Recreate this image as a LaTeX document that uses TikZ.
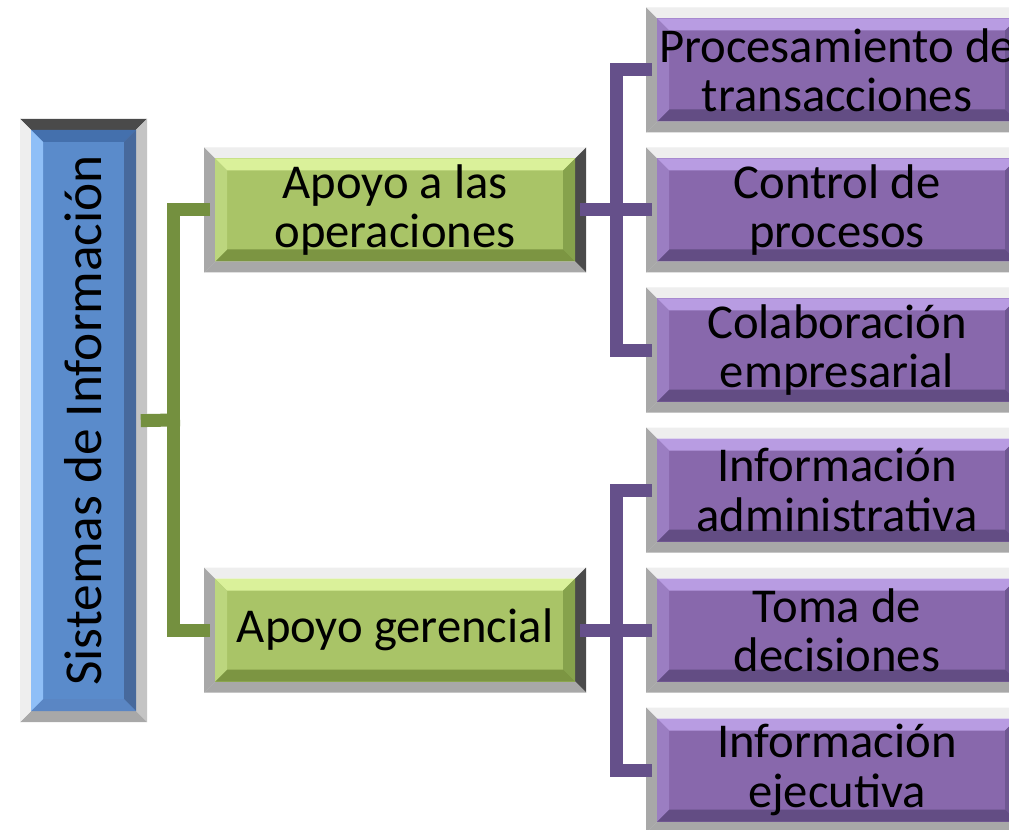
\documentclass[tikz,border=0pt]{standalone}
\usepackage{fontspec}
\usepackage{graphicx}
\setmainfont{Carlito}
\definecolor{gM}{HTML}{A9C467}
\definecolor{gT}{HTML}{DAF19A}
\definecolor{gL}{HTML}{BCD67E}
\definecolor{gR}{HTML}{86A24C}
\definecolor{gB}{HTML}{7C9542}
\definecolor{pM}{HTML}{8868AC}
\definecolor{pT}{HTML}{B89CE2}
\definecolor{pL}{HTML}{9B7EC2}
\definecolor{pR}{HTML}{6F5792}
\definecolor{pB}{HTML}{634D84}
\definecolor{bM}{HTML}{5A8BCB}
\definecolor{bT}{HTML}{4470AD}
\definecolor{bL}{HTML}{8FBFF7}
\definecolor{bR}{HTML}{47699C}
\definecolor{bB}{HTML}{5A86C4}
\definecolor{frLight}{HTML}{EEEEEE}
\definecolor{frGray}{HTML}{A8A8A8}
\definecolor{frDark}{HTML}{4A4A4A}
\definecolor{frMid}{HTML}{C4C4C4}
\definecolor{gLine}{HTML}{74903F}
\definecolor{pLine}{HTML}{65508A}
\def\bvf{8.25pt}
\def\bvg{9pt}
\tikzset{
  fT/.store in=\bvfT, fL/.store in=\bvfL, fR/.store in=\bvfR, fB/.store in=\bvfB,
  cM/.store in=\bvcM, cT/.store in=\bvcT, cL/.store in=\bvcL, cR/.store in=\bvcR, cB/.store in=\bvcB,
  bevelbox/.style={fill=white, inner sep=0pt, align=center, text=black,
    path picture={
      \coordinate (O1) at (path picture bounding box.north west);
      \coordinate (O2) at (path picture bounding box.north east);
      \coordinate (O3) at (path picture bounding box.south east);
      \coordinate (O4) at (path picture bounding box.south west);
      \coordinate (I1) at ([shift={(\bvf,-\bvf)}]O1);
      \coordinate (I2) at ([shift={(-\bvf,-\bvf)}]O2);
      \coordinate (I3) at ([shift={(-\bvf,\bvf)}]O3);
      \coordinate (I4) at ([shift={(\bvf,\bvf)}]O4);
      \coordinate (J1) at ([shift={(\bvg,-\bvg)}]I1);
      \coordinate (J2) at ([shift={(-\bvg,-\bvg)}]I2);
      \coordinate (J3) at ([shift={(-\bvg,\bvg)}]I3);
      \coordinate (J4) at ([shift={(\bvg,\bvg)}]I4);
      \fill[\bvfT] (O1) -- (O2) -- (I2) -- (I1) -- cycle;
      \fill[\bvfR] (O2) -- (O3) -- (I3) -- (I2) -- cycle;
      \fill[\bvfB] (O3) -- (O4) -- (I4) -- (I3) -- cycle;
      \fill[\bvfL] (O4) -- (O1) -- (I1) -- (I4) -- cycle;
      \fill[\bvcM] (I1) rectangle (I3);
      \fill[\bvcT] (I1) -- (I2) -- (J2) -- (J1) -- cycle;
      \fill[\bvcR] (I2) -- (I3) -- (J3) -- (J2) -- cycle;
      \fill[\bvcB] (I3) -- (I4) -- (J4) -- (J3) -- cycle;
      \fill[\bvcL] (I4) -- (I1) -- (J1) -- (J4) -- cycle;
    }},
  hbox/.style={bevelbox, minimum width=286.5pt, minimum height=93.75pt,
    font=\fontsize{36.5}{37}\selectfont,
    fT=frLight, fL=frGray, fR=frDark, fB=frGray},
  greenbox/.style={hbox, cM=gM, cT=gT, cL=gL, cR=gR, cB=gB},
  purplebox/.style={hbox, cM=pM, cT=pT, cL=pL, cR=pR, cB=pB},
  bluebox/.style={bevelbox, minimum width=95.25pt, minimum height=452.25pt,
    font=\fontsize{40}{40}\selectfont,
    fT=frDark, fL=frLight, fR=frMid, fB=frGray,
    cM=bM, cT=bT, cL=bL, cR=bR, cB=bB},
  gconn/.style={draw=gLine, line width=9.75pt, line join=miter, line cap=rect},
  pconn/.style={draw=pLine, line width=9.75pt, line join=miter, line cap=rect}
}
\begin{document}
\begin{tikzpicture}[x=0.75pt, y=-0.75pt]
\useasboundingbox (0,0) rectangle (1009,830);
\clip (0,0) rectangle (1009,830);
\fill[white] (0,0) rectangle (1009,830);

\coordinate (gbus) at (173.5,420);
\coordinate (pbus1) at (616.5,210);
\coordinate (pbus2) at (616.5,630);

\node[bluebox] (blue) at (83.5,420.5) {\rotatebox{90}{Sistemas de Información}};
\node[greenbox] (g1) at (395,210) {Apoyo a las\\operaciones};
\node[greenbox] (g2) at (395,630) {Apoyo gerencial};
\node[purplebox] (p1) at (837,70) {Procesamiento de\\transacciones};
\node[purplebox] (p2) at (837,210) {Control de\\procesos};
\node[purplebox] (p3) at (837,350) {Colaboración\\empresarial};
\node[purplebox] (p4) at (837,490) {Información\\administrativa};
\node[purplebox] (p5) at (837,630) {Toma de\\decisiones};
\node[purplebox] (p6) at (837,770) {Información\\ejecutiva};

\draw[gconn] (blue.east) -- (gbus);
\draw[gconn] (g1.west) -| (gbus) |- (g2.west);
\draw[pconn] (g1.east) -- (p2.west);
\draw[pconn] (p1.west) -| (pbus1) |- (p3.west);
\draw[pconn] (g2.east) -- (p5.west);
\draw[pconn] (p4.west) -| (pbus2) |- (p6.west);
\end{tikzpicture}
\end{document}
